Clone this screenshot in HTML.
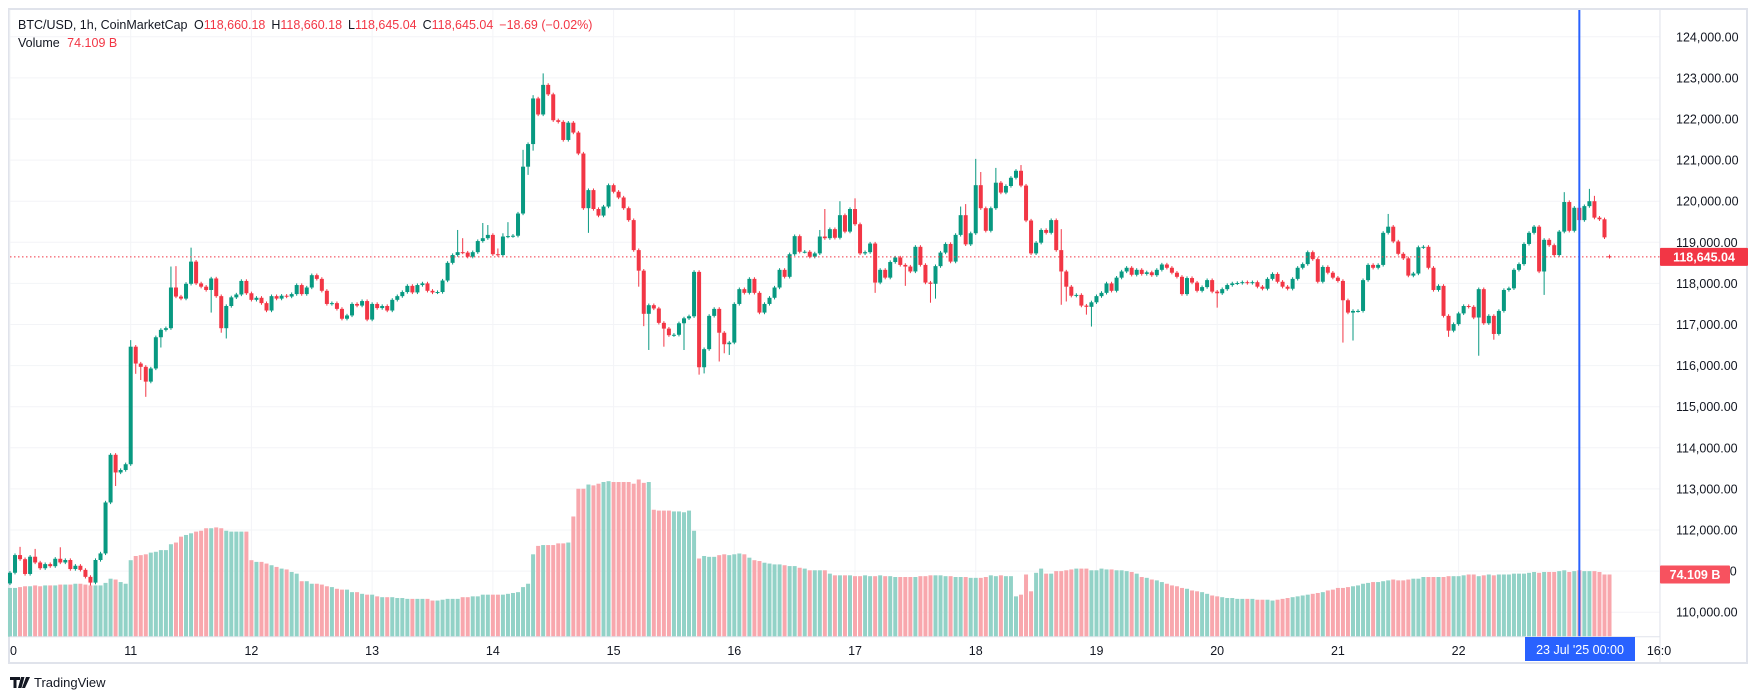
<!DOCTYPE html>
<html><head><meta charset="utf-8"><style>
html,body{margin:0;padding:0;background:#fff;width:1756px;height:700px;overflow:hidden;font-family:"Liberation Sans",sans-serif}
svg{display:block}
text{font-family:"Liberation Sans",sans-serif}
</style></head><body>
<svg id="chart" width="1756" height="700" viewBox="0 0 1756 700" xmlns="http://www.w3.org/2000/svg">
<rect x="9" y="9" width="1738" height="654" fill="#fff" stroke="#e0e3eb" stroke-width="2"/>
<g id="grid"></g>
<g id="vol"></g>
<g id="candles"></g>
<g id="overlay"></g>
<g id="axes"></g>
<text x="18" y="29" font-size="12.5" fill="#131722">BTC/USD, 1h, CoinMarketCap <tspan dx="3">O</tspan><tspan fill="#f23645">118,660.18</tspan><tspan dx="6">H</tspan><tspan fill="#f23645">118,660.18</tspan><tspan dx="6">L</tspan><tspan fill="#f23645">118,645.04</tspan><tspan dx="6">C</tspan><tspan fill="#f23645">118,645.04</tspan><tspan dx="6" fill="#f23645">−18.69 (−0.02%)</tspan></text>
<text x="18" y="47" font-size="12.5" fill="#131722">Volume <tspan dx="4" fill="#f23645">74.109 B</tspan></text>
<g>
<path d="M10 677h10v3h-3.5v8h-3v-8h-3.5z M21 677h3.5l-3 11h-3.5z M26 677h4l-5 11h-3z" fill="#131722"/>
<text x="34" y="687" font-size="13" fill="#131722">TradingView</text>
</g>
</svg>
<script>
const closes=[110.96,111.39,111.29,110.93,111.35,111.21,111.07,111.17,111.12,111.30,111.21,111.27,111.05,111.13,111.03,110.86,110.72,111.27,111.43,112.67,113.83,113.40,113.46,113.60,
116.46,116.05,115.97,115.61,115.93,116.69,116.87,116.91,117.90,117.68,117.63,117.99,118.53,118.00,117.92,117.84,118.12,117.69,116.91,117.45,117.66,117.73,118.06,117.76,
117.60,117.65,117.52,117.34,117.69,117.63,117.70,117.68,117.74,117.96,117.74,117.90,118.20,118.11,117.82,117.50,117.52,117.38,117.14,117.22,117.50,117.46,117.57,117.12,
117.50,117.40,117.45,117.34,117.60,117.69,117.79,117.94,117.78,117.96,118.00,117.82,117.78,117.79,118.07,118.50,118.69,118.76,118.75,118.65,118.76,119.03,119.10,119.18,
118.71,118.69,119.14,119.15,119.16,119.70,120.84,121.39,122.50,122.11,122.83,122.60,121.97,121.93,121.49,121.91,121.67,121.16,119.83,120.27,119.81,119.65,119.87,120.39,
120.23,120.09,119.83,119.54,118.81,118.31,117.26,117.47,117.39,117.04,116.90,116.74,116.75,117.03,117.15,117.20,118.28,115.96,116.40,117.21,117.38,116.80,116.52,116.56,
117.50,117.86,117.77,118.11,117.77,117.29,117.50,117.65,117.90,118.33,118.16,118.71,119.15,118.77,118.77,118.65,118.73,119.14,119.10,119.32,119.11,119.66,119.26,119.81,
119.44,118.73,118.76,118.97,118.02,118.33,118.14,118.52,118.63,118.45,118.41,118.29,118.89,118.45,118.02,117.99,118.42,118.75,118.96,118.53,119.18,119.66,118.95,119.22,
120.39,119.83,119.28,119.83,120.45,120.21,120.37,120.57,120.74,120.38,119.53,118.73,118.99,119.30,119.23,119.54,118.81,118.29,117.92,117.70,117.72,117.46,117.43,117.54,
117.69,117.77,118.00,117.82,118.14,118.29,118.38,118.21,118.33,118.23,118.27,118.20,118.33,118.46,118.38,118.26,118.16,117.74,118.13,118.02,117.82,117.91,118.08,117.80,
117.76,117.86,117.96,118.00,118.01,118.03,118.01,118.03,117.92,117.87,118.11,118.23,118.04,117.92,117.87,118.11,118.38,118.47,118.76,118.59,118.04,118.40,118.26,118.14,
118.06,117.59,117.29,117.33,117.33,118.08,118.45,118.38,118.45,119.23,119.38,119.02,118.72,118.61,118.19,118.24,118.88,118.89,118.38,117.84,117.94,117.21,116.85,117.01,
117.27,117.45,117.43,117.17,117.86,117.03,117.21,116.77,117.33,117.84,117.88,118.33,118.47,118.96,119.23,119.38,118.29,119.06,118.93,118.69,119.26,119.98,119.28,119.84,
119.54,119.88,120.00,119.60,119.56,119.12,118.645];
const firstOpen=110.70;
const lastOpen=118.660;
const highOverrides={2:111.59,5:111.54,10:111.58,24:116.62,32:118.41,33:118.42,36:118.87,89:119.30,90:119.10,94:119.47,95:119.42,97:118.85,98:119.22,99:119.49,102:121.25,104:122.58,106:123.11,161:119.30,162:119.81,165:120.0,168:120.07,189:119.87,190:119.93,192:121.03,193:120.71,196:120.81,201:120.88,209:119.32,274:119.69,309:120.22,314:120.30,315:120.13};
const lowOverrides={16:110.65,21:113.07,25:115.80,26:115.65,27:115.24,30:116.44,40:117.29,42:116.80,43:116.66,103:120.64,104:121.23,115:119.23,125:117.92,126:116.96,127:116.38,130:116.46,134:116.38,137:115.78,138:115.81,141:116.10,142:116.30,143:116.26,172:117.77,178:117.94,183:117.53,184:117.63,209:117.48,210:117.56,214:117.24,215:116.95,240:117.41,265:116.56,267:116.61,286:116.70,292:116.24,295:116.63,305:117.72};
const volumes=[58,58,59,60,60,61,60,61,61,61,62,62,62,63,63,62,61,61,61,64,69,68,65,63,
91,96,97,98,100,101,103,103,110,112,119,121,123,125,126,129,129,130,129,126,125,125,125,125,
91,89,89,87,85,83,81,80,77,75,66,66,63,63,62,60,59,57,56,56,53,53,51,50,
50,48,47,47,47,46,46,45,45,45,45,45,43,43,44,45,45,45,47,47,48,48,50,50,
50,50,50,51,52,53,59,63,98,108,109,109,109,111,111,112,143,176,176,181,180,182,184,185,
184,184,184,184,182,187,183,184,151,150,150,150,149,149,148,150,126,93,96,95,95,97,98,97,
98,99,98,94,91,90,88,87,86,86,85,84,84,82,81,79,79,79,79,75,73,73,73,73,
72,72,73,72,72,73,72,72,71,71,71,71,71,72,72,73,73,73,72,72,71,71,71,70,
70,70,71,73,72,73,72,72,48,50,74,54,76,81,75,75,78,78,79,80,81,81,81,79,
79,81,80,80,79,79,78,77,75,71,70,68,67,65,63,61,60,58,57,55,54,53,51,49,
48,47,46,46,45,45,45,45,44,44,44,43,44,45,46,47,48,49,50,51,52,53,55,56,
58,58,59,60,61,63,64,65,65,66,67,68,67,67,68,69,69,71,71,71,71,71,72,72,
72,73,74,74,72,73,74,73,74,74,74,75,75,75,76,77,76,77,77,77,78,79,77,78,
79,78,78,78,77,74,74];
const priceTicks=[124000,123000,122000,121000,120000,119000,118000,117000,116000,115000,114000,113000,112000,111000,110000];
const dayLabels=['0','11','12','13','14','15','16','17','18','19','20','21','22'];
const lastPrice=118645.04;

const NS='http://www.w3.org/2000/svg';
const plotL=10, plotR=1660, plotT=10, plotB=636.7;
const yP=p=>242.3+(119000-p)*0.0411;
const xH=h=>130.7+(h-24)*5.03;
const yV=v=>plotB-v*0.8407;
function mk(tag,attrs,parent){const e=document.createElementNS(NS,tag);for(const k in attrs)e.setAttribute(k,attrs[k]);parent.appendChild(e);return e;}
const grid=document.getElementById('grid'),vol=document.getElementById('vol'),cg=document.getElementById('candles'),ov=document.getElementById('overlay'),ax=document.getElementById('axes');
priceTicks.forEach(p=>{const l=mk('line',{x1:plotL,x2:plotR,y1:yP(p),y2:yP(p),stroke:'#f3f4f7','stroke-width':1},grid);

});
dayLabels.forEach((d,i)=>{const x=xH(i*24);const l=mk('line',{x1:x,x2:x,y1:plotT,y2:plotB,stroke:'#f3f4f7','stroke-width':1},grid);

});
{const x=xH(13*24+16);const l=mk('line',{x1:x,x2:x,y1:plotT,y2:plotB,stroke:'#f3f4f7','stroke-width':1},grid);

}
closes.forEach((c,i)=>{
 const o=i===0?firstOpen:(i===closes.length-1?lastOpen:closes[i-1]);
 const up=c>=o;
 const hi=(highOverrides[i]!==undefined?highOverrides[i]:Math.max(o,c)+0.04);
 const lo=(lowOverrides[i]!==undefined?lowOverrides[i]:Math.min(o,c)-0.04);
 const x=xH(i);
 const col=up?'#089981':'#f23645';
 const vb=mk('rect',{x:x-2,y:yV(volumes[i]),width:4,height:plotB-yV(volumes[i]),fill:up?'#92d2c7':'#f8a7ad'},vol);
 
 
 const w=mk('line',{x1:x,x2:x,y1:yP(hi*1000),y2:yP(lo*1000),stroke:col,'stroke-width':1},cg);
 
 
 const t=yP(Math.max(o,c)*1000),b=yP(Math.min(o,c)*1000);
 const r=mk('rect',{x:x-2,y:t,width:4,height:Math.max(1,b-t),fill:col},cg);
 
 
});
const lp=mk('line',{x1:plotL,x2:plotR,y1:yP(lastPrice),y2:yP(lastPrice),stroke:'#f23645','stroke-width':1,'stroke-dasharray':'1.5 2.5'},ov);


const ch=mk('line',{x1:xH(312),x2:xH(312),y1:plotT,y2:plotB,stroke:'#2962ff','stroke-width':2},ov);


const sep=mk('line',{x1:plotR,x2:plotR,y1:plotT,y2:662,stroke:'#e0e3eb','stroke-width':1},ax);


const tb=mk('line',{x1:plotL,x2:plotR,y1:plotB,y2:plotB,stroke:'#e0e3eb','stroke-width':1},ax);


priceTicks.forEach(p=>{const t=mk('text',{x:1676,y:yP(p)+4.5,'font-size':12.5,fill:'#131722'},ax);t.textContent=p.toLocaleString('en-US',{minimumFractionDigits:2});

});
dayLabels.forEach((d,i)=>{const x=i===0?10:xH(i*24);const t=mk('text',{x:x,y:655,'font-size':12.5,fill:'#131722','text-anchor':i===0?'start':'middle'},ax);t.textContent=d;

});
{const t=mk('text',{x:xH(13*24+16)-13,y:655,'font-size':12.5,fill:'#131722'},ax);t.textContent='16:0';

}
const py=yP(lastPrice);
const pb=mk('rect',{x:plotR,y:py-9,width:88,height:18,fill:'#f23645',rx:1},ax);


const pt=mk('text',{x:plotR+44,y:py+4.5,'font-size':12.5,fill:'#fff','text-anchor':'middle','font-weight':'bold'},ax);pt.textContent='118,645.04';


const vy=yV(volumes[volumes.length-1]);
const vbx=mk('rect',{x:plotR,y:vy-9,width:70,height:18,fill:'#f7525f',rx:1},ax);


const vt=mk('text',{x:plotR+35,y:vy+4.5,'font-size':12.5,fill:'#fff','text-anchor':'middle','font-weight':'bold'},ax);vt.textContent='74.109 B';


const dl=mk('rect',{x:1525,y:637,width:110,height:24,fill:'#2962ff'},ax);


const dt=mk('text',{x:1580,y:654,'font-size':12.5,fill:'#fff','text-anchor':'middle'},ax);dt.textContent="23 Jul '25   00:00";
dt.setAttribute('xml:space','preserve');


</script>
</body></html>
